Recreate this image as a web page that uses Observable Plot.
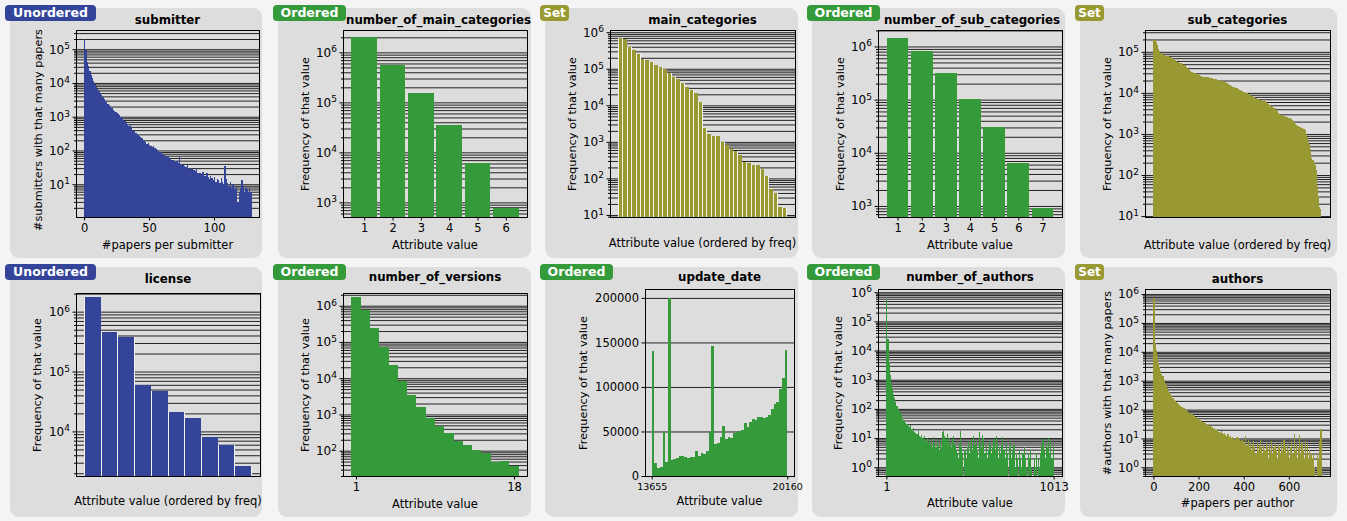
<!DOCTYPE html>
<html><head><meta charset="utf-8">
<script src="https://cdn.jsdelivr.net/npm/d3@7"></script>
<script src="https://cdn.jsdelivr.net/npm/@observablehq/plot@0.6"></script>
<style>
html,body{margin:0;padding:0;background:#f4f4f4;color:#000;overflow:hidden;font-family:"DejaVu Sans",sans-serif;}
#root{position:relative;width:1347px;height:521px;overflow:hidden;}
.panel{position:absolute;background:#dddddd;border-radius:9px;}
.badge{position:absolute;color:#fff;font-weight:bold;font-size:12.5px;height:16px;line-height:16px;text-align:center;border-radius:4px;}
.title{position:absolute;font-weight:bold;font-size:11.8px;transform:translate(-50%,-50%);white-space:nowrap;}
.xlab{position:absolute;font-size:11.5px;transform:translate(-50%,-50%);white-space:nowrap;}
.ylab{position:absolute;font-size:11.3px;transform:translate(-50%,-50%) rotate(-90deg);white-space:nowrap;}
</style></head>
<body><div id="root"></div>
<script>
// ---------------- DATA ----------------
const kindColors = {Unordered: "#334499", Ordered: "#349a3a", Set: "#999933"};
const kindBadgeWidth = {Unordered: 91, Ordered: 73, Set: 29};

// submitter: #submitters with that many papers (bins 0..128)
const submitterCounts = [200000,96000,43000,31000,22000,17500,14000,11500,9400,7400,
 6500,5600,4900,4300,3800,3400,3000,2700,2450,2200,
 1950,1780,1600,1480,1390,1290,1180,1100,990,910,
 820,740,660,590,540,610,470,400,370,340,
 320,290,270,255,240,205,190,175,160,170,
 150,140,130,135,120,110,104,95,91,88,
 80,74,70,65,68,60,56,53,51,48,
 45,50,42,65,40,38,36,34,32,36,
 31,29,30,29,27,24,28,22,21,22,
 19,23,18,17,21,16,14,18,15,13,
 16,12,14,13,11,15,12,10,34,14,
 11,9,12,8,10,8,7,9,3,6,
 8,13,9,6,8,7,6,8,6];
const submitterXTicks = [0, 50, 100];

// number_of_main_categories
const nMainCatValues = [1, 2, 3, 4, 5, 6];
const nMainCatFreq = [2000000, 570000, 154000, 36000, 6000, 780];

// main_categories (ordered by freq)
const mainCategoriesFreq = [690000,650000,390000,330000,260000,190000,170000,158000,123000,110000,
 96000,78000,59000,53000,42000,31000,26000,22000,12000,2400,
 1650,1450,1430,1000,800,650,560,430,290,270,
 240,230,180,120,50,40,17,16];

// number_of_sub_categories
const nSubCatValues = [1, 2, 3, 4, 5, 6, 7];
const nSubCatFreq = [1460000, 810000, 320000, 104000, 30000, 6500, 930];

// sub_categories (ordered by freq)
const subCategoriesFreq = [210000,195000,175000,150000,118000,102000,95000,92000,88000,85000,
 83000,81000,80000,78000,76000,74500,73000,70000,67000,64000,
 62000,60000,58000,57000,54000,52000,50000,49000,48000,47000,
 43000,40000,38000,36000,34500,33000,32000,31000,30500,29500,
 29000,28000,27000,26000,25500,25000,24800,24500,24300,24100,
 24000,23500,23000,22800,22500,22200,22000,21600,21200,20800,
 20500,20200,20000,19500,19000,18500,18000,17600,17200,16800,
 16000,15300,14800,14300,13900,13500,13100,12800,12400,12000,
 11700,11400,11000,10700,10400,10100,9800,9500,9200,8900,
 8600,8300,8100,7900,7700,7400,7200,7000,6800,6700,
 6600,6500,6400,6200,6000,5700,5400,5200,5000,4800,
 4600,4400,4200,3900,3600,3300,3100,2950,2900,2850,
 2800,2700,2600,2550,2500,2450,2400,2300,2200,2100,
 1900,1750,1650,1600,1550,1480,1420,1380,1350,1300,
 1250,1000,820,650,560,420,260,230,200,180,
 130,55,30,17,15];

// license (ordered by freq)
const licenseFreq = [1740000, 460000, 380000, 60000, 48000, 21000, 17000, 8100, 6000, 2600];

// number_of_versions
const nVersionsValues = [1,2,3,4,5,6,7,8,9,10,11,12,13,14,15,16,17,18];
const nVersionsFreq = [1740000,760000,250000,73000,23000,8400,3400,1600,810,490,310,185,145,105,89,48,51,37];
const nVersionsXTicks = [1, 18];

// update_date (50 bins between first and last day)
const updateDateRange = [13655, 20160];
const updateDateFreq = [140000,15000,8500,10000,49000,16000,200000,18000,19000,20000,
 22000,22000,21000,20000,21000,21500,28000,23000,26000,25000,
 28000,49000,146000,36000,37000,44000,56000,42000,44000,43000,
 48000,49000,51000,52000,60000,55000,61000,64000,63000,66000,
 66000,65000,66000,69000,75000,81000,83000,98000,110000,141000];
const updateDateYTicks = [0, 50000, 100000, 150000, 200000];

// number_of_authors (150 bins between 1 and 1013)
const nAuthorsRange = [1, 1013];
const nAuthorsFreq = [600000,25000,4000,1500,800,500,330,230,170,130,
 100,85,70,60,50,42,38,34,30,26,
 24,28,20,18,22,16,15,14,17,12,
 11,13,10,9,12,8,10,7,9,6,
 8,5,11,7,5,9,6,4,8,5,
 16,18,12,9,14,6,10,7,5,9,
 12,6,4,3,2,7,17,5,3,0,
 4,2,5,8,3,6,9,4,12,6,
 8,4,2,16,7,5,13,10,3,6,
 2,4,8,6,3,5,9,4,12,7,
 2,5,3,6,11,4,2,7,3,0,
 5,8,2,4,6,1,3,2,0,4,
 2,1,3,5,2,1,0,3,2,4,
 1,0,2,1,3,0,2,1,3,6,
 9,4,2,7,5,10,3,8,2,6];

// authors: #authors with that many papers (150 bins from 0 to 745)
const authorsRange = [0, 745];
const authorsFreq = [730000,21000,12000,7000,4200,3000,2200,1700,1400,1100,
 800,700,560,450,400,340,300,260,220,195,
 180,165,150,140,130,125,115,110,100,95,
 88,84,78,72,68,63,60,57,54,50,
 46,44,40,38,36,33,34,30,29,31,
 27,25,24,22,23,20,19,21,17,16,
 18,15,14,16,13,12,14,11,12,10,
 11,10,9,10,11,9,10,8,9,9,
 8,7,12,6,9,5,7,4,6,8,
 5,3,7,4,6,9,5,3,6,4,
 7,5,2,6,4,8,3,5,7,4,
 2,6,5,3,7,4,9,5,3,6,
 4,2,5,8,3,14,4,6,2,5,
 13,3,7,4,2,8,3,6,2,4,
 3,2,3,1,0,0,3,2,8,22];
const authorsXTicks = [0, 200, 400, 600];

// ---------------- HELPERS ----------------
const powFmt = d => "10^" + Math.round(Math.log10(d));
function logTicks([lo, hi]) {
  const major = [], minor = [];
  for (let e = Math.floor(Math.log10(lo)); e <= Math.ceil(Math.log10(hi)); e++) {
    for (let m = 1; m <= 9; m++) {
      const v = +(m * Math.pow(10, e)).toPrecision(6);
      if (v >= lo && v <= hi) (m === 1 ? major : minor).push(v);
    }
  }
  return {major, minor};
}
const centered = (vals, freq, w) => vals.map((k, i) => ({x1: k - w / 2, x2: k + w / 2, y: freq[i]}));
const indexed = (freq, off = 0) => freq.map((v, i) => ({x1: i - 0.5 + off, x2: i + 0.5 + off, y: v}));
const binned = ([a, b], freq) => { const w = (b - a) / freq.length; return freq.map((v, i) => ({x1: a + i * w, x2: a + (i + 1) * w, y: v})); };

// ---------------- PANELS ----------------
const FREQ = "Frequency of that value", ATTR = "Attribute value", ATTRF = "Attribute value (ordered by freq)";
const panels = [
 {kind:"Unordered", title:"submitter", xlabel:"#papers per submitter", ylabel:"#submitters with that many papers", ylabY:130,
  box:[10,8,252,250], area:[76,30,259,217], ylabX:38, xlabY:245, titleY:20,
  xDomain:[-6.2,134.6], yDomain:[1.07,3.7e5], xTicks:submitterXTicks, bars:indexed(submitterCounts, 0.5)},
 {kind:"Ordered", title:"number_of_main_categories", titleX:438.5, xlabel:ATTR, ylabel:FREQ,
  box:[278,8,253,250], area:[343,30,527,217], ylabX:305, xlabY:245, titleY:20,
  xDomain:[0.25,6.75], yDomain:[510,2.8e6], xTicks:nMainCatValues, bars:centered(nMainCatValues,nMainCatFreq,0.9)},
 {kind:"Set", title:"main_categories", xlabel:ATTRF, ylabel:FREQ,
  box:[545,8,253,250], area:[610,30,795,217], ylabX:572, xlabY:243, titleY:20,
  xDomain:[-2.4,39.4], yDomain:[8.8,1.15e6], xTicks:null, inset:0.5, bars:indexed(mainCategoriesFreq)},
 {kind:"Ordered", title:"number_of_sub_categories", titleX:972, xlabel:ATTR, ylabel:FREQ,
  box:[812,8,253,250], area:[878,30,1062,217], ylabX:840, xlabY:245, titleY:20,
  xDomain:[0.19,7.81], yDomain:[620,2.04e6], xTicks:nSubCatValues, bars:centered(nSubCatValues,nSubCatFreq,0.9)},
 {kind:"Set", title:"sub_categories", xlabel:ATTRF, ylabel:FREQ,
  box:[1080,8,257,250], area:[1145,30,1330,217], ylabX:1107, xlabY:245, titleY:20,
  xDomain:[-8.25,162.75], yDomain:[9.5,3.4e5], xTicks:null, bars:indexed(subCategoriesFreq)},
 {kind:"Unordered", title:"license", xlabel:ATTRF, ylabel:FREQ,
  box:[10,267,252,250], area:[76,293,260,476], ylabX:37, xlabY:501, titleY:279,
  xDomain:[-1,10], yDomain:[1800,2.05e6], xTicks:null, inset:0.5, bars:indexed(licenseFreq)},
 {kind:"Ordered", title:"number_of_versions", xlabel:ATTR, ylabel:FREQ,
  box:[278,267,253,250], area:[343,293,527,476], ylabX:305, xlabY:504, titleY:277,
  xDomain:[-0.4,19.4], yDomain:[20,2.24e6], xTicks:nVersionsXTicks, bars:centered(nVersionsValues,nVersionsFreq,1)},
 {kind:"Ordered", title:"update_date", xlabel:ATTR, ylabel:FREQ,
  box:[545,267,253,250], area:[645,289,794,476], ylabX:583, xlabY:501, titleY:277,
  xDomain:[13330,20485], yDomain:[0,210000], linear:true, yTicks:updateDateYTicks, xTicks:updateDateRange, xTickFont:"9.5px", bars:binned(updateDateRange,updateDateFreq)},
 {kind:"Ordered", title:"number_of_authors", xlabel:ATTR, ylabel:FREQ,
  box:[812,267,253,250], area:[878,289,1062,476], ylabX:838, xlabY:503, titleY:277,
  xDomain:[-49.6,1063.6], yDomain:[0.5,1.29e6], xTicks:nAuthorsRange, bars:binned(nAuthorsRange,nAuthorsFreq)},
 {kind:"Set", title:"authors", xlabel:"#papers per author", ylabel:"#authors with that many papers",
  box:[1080,267,257,250], area:[1145,289,1330,476], ylabX:1107, xlabY:503, titleY:279,
  xDomain:[-37.25,782.25], yDomain:[0.5,1.5e6], xTicks:authorsXTicks, bars:binned(authorsRange,authorsFreq)}
];

const root = document.getElementById("root");
function addDiv(cls, text, css) {
  const d = document.createElement("div");
  d.className = cls; d.textContent = text;
  Object.assign(d.style, css);
  root.appendChild(d);
  return d;
}
const SVGNS = "http://www.w3.org/2000/svg";
function superscriptTicks(svg) {
  for (const t of svg.querySelectorAll("text")) {
    const m = /^10\^(-?\d+)$/.exec(t.textContent);
    if (!m) continue;
    t.textContent = "10";
    const s = document.createElementNS(SVGNS, "tspan");
    s.setAttribute("dy", "-0.48em");
    s.setAttribute("font-size", "9px");
    s.textContent = m[1];
    t.appendChild(s);
  }
}

for (const p of panels) {
  const color = kindColors[p.kind];
  const [bx, by, bw, bh] = p.box;
  addDiv("panel", "", {left: bx + "px", top: by + "px", width: bw + "px", height: bh + "px"});

  const [x0, y0, x1, y1] = p.area;
  const ML = 70, MR = 14, MT = 12, MB = 30;
  const yLo = p.yDomain[0];
  const bars = p.bars.filter(d => d.y > 0).map(d => ({...d, y1: p.linear ? 0 : yLo}));
  let grid, yAxes;
  if (p.linear) {
    grid = p.yTicks;
    yAxes = [Plot.axisY({ticks: p.yTicks, tickFormat: d => String(d), tickSize: 3.5, tickPadding: 3, label: null, fontSize: "11.5px"})];
  } else {
    const {major, minor} = logTicks(p.yDomain);
    grid = major.concat(minor);
    yAxes = [
      Plot.axisY({ticks: major, tickFormat: powFmt, tickSize: 3.5, tickPadding: 3, label: null, fontSize: "12px"}),
      Plot.axisY({ticks: minor, tickFormat: () => "", tickSize: 2, label: null})
    ];
  }
  const marks = [Plot.ruleY(grid, {stroke: "#000", strokeWidth: 1, strokeOpacity: 0.85})];
  if (p.inset) {
    // light bar edges showing between adjacent bars
    marks.push(Plot.rect(bars, {x1: "x1", x2: "x2", y1: "y1", y2: "y", fill: "#f2f2e6", shapeRendering: "crispEdges"}));
  }
  marks.push(
    Plot.rect(bars, {x1: "x1", x2: "x2", y1: "y1", y2: "y", fill: color, shapeRendering: "crispEdges",
      insetLeft: p.inset || 0, insetRight: p.inset || 0}),
    ...yAxes,
    Plot.frame({stroke: "#000", strokeWidth: 1})
  );
  if (p.xTicks) marks.push(Plot.axisX({ticks: p.xTicks, tickFormat: d => String(d), tickSize: 3.5, tickPadding: 3, label: null, fontSize: p.xTickFont || "11.5px"}));

  const svg = Plot.plot({
    width: (x1 - x0) + ML + MR, height: (y1 - y0) + MT + MB,
    marginLeft: ML, marginRight: MR, marginTop: MT, marginBottom: MB,
    x: {type: "linear", domain: p.xDomain, axis: null},
    y: {type: p.linear ? "linear" : "log", domain: p.yDomain, axis: null},
    style: {background: "transparent", fontFamily: "DejaVu Sans", fontSize: "11px", overflow: "visible", color: "#000"},
    marks
  });
  superscriptTicks(svg);
  svg.style.position = "absolute";
  svg.style.left = (x0 - ML) + "px";
  svg.style.top = (y0 - MT) + "px";
  svg.style.maxWidth = "none";
  root.appendChild(svg);

  const cx = (x0 + x1) / 2, cy = (y0 + y1) / 2;
  addDiv("title", p.title, {left: (p.titleX || cx) + "px", top: p.titleY + "px"});
  addDiv("xlab", p.xlabel, {left: cx + "px", top: p.xlabY + "px"});
  addDiv("ylab", p.ylabel, {left: p.ylabX + "px", top: (p.ylabY || cy) + "px"});
  addDiv("badge", p.kind, {left: (bx - 5) + "px", top: (by - 3) + "px", width: kindBadgeWidth[p.kind] + "px", background: color,
    fontSize: p.kind === "Set" ? "12px" : "12.5px"});
}
</script>
</body></html>
